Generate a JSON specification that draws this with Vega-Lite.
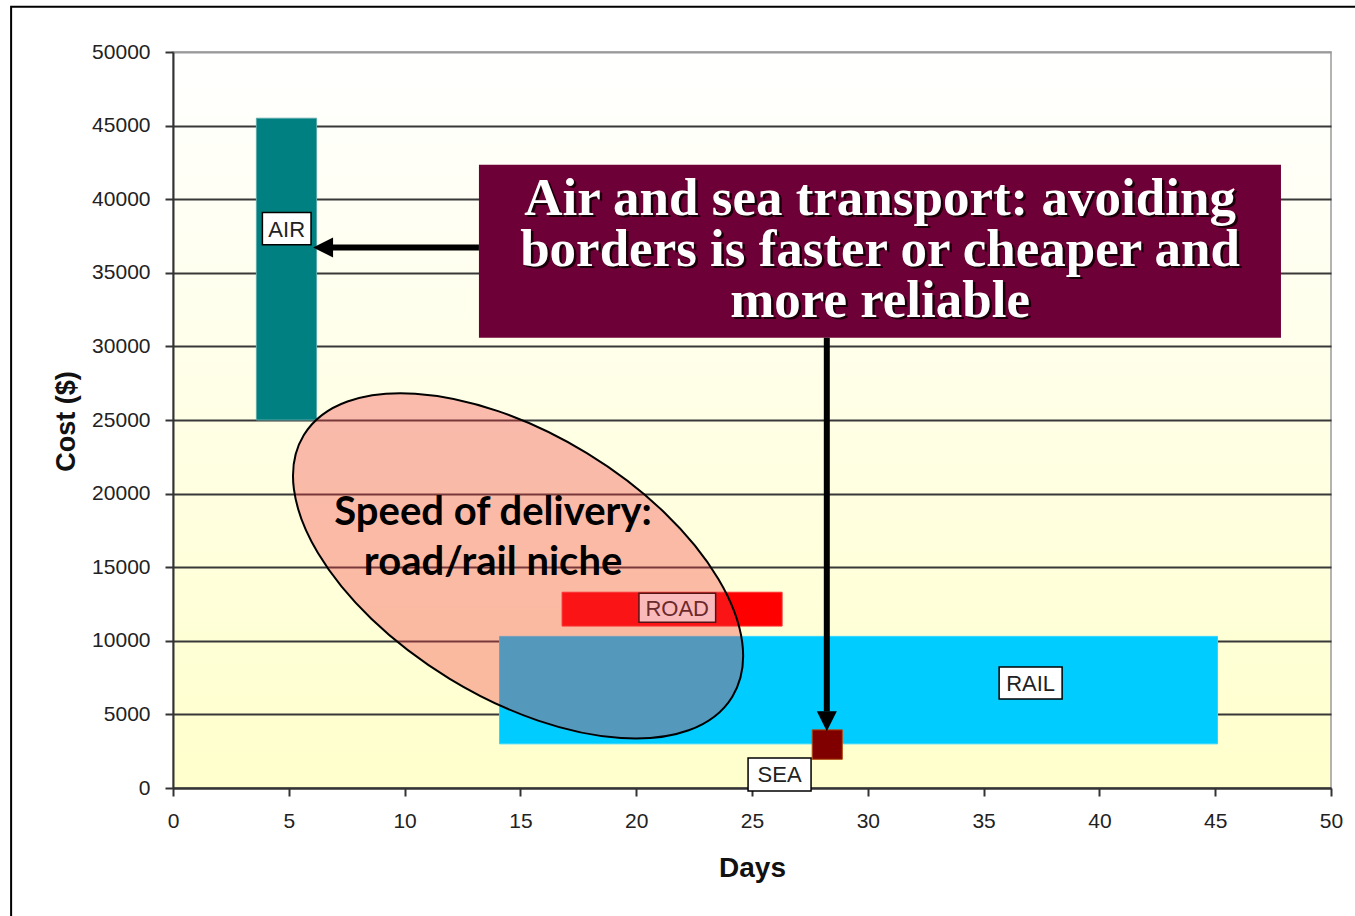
{
  "$schema": "https://vega.github.io/schema/vega-lite/v6.json",
  "width": 1158,
  "height": 736,
  "autosize": "none",
  "padding": {"left": 173, "top": 52, "right": 24, "bottom": 128},
  "background": "white",
  "view": {
    "fill": {"gradient": "linear", "x1": 0, "y1": 0, "x2": 0, "y2": 1,
      "stops": [{"offset": 0, "color": "#ffffff"}, {"offset": 1, "color": "#ffffcc"}]},
    "stroke": "#9a9a9a",
    "strokeWidth": 1.5
  },
  "datasets": {
    "modes": [
      {"mode": "AIR", "d0": 3.6, "d1": 6.2, "c0": 25000, "c1": 45500},
      {"mode": "ROAD", "d0": 16.8, "d1": 26.3, "c0": 11000, "c1": 13300},
      {"mode": "RAIL", "d0": 14.1, "d1": 45.1, "c0": 3000, "c1": 10300},
      {"mode": "SEA", "d0": 27.6, "d1": 28.9, "c0": 1950, "c1": 3950}
    ],
    "labels": [
      {"mode": "AIR", "d0": 3.86, "d1": 5.96, "c0": 36900, "c1": 39100, "dc": 4.91, "cc": 38000},
      {"mode": "ROAD", "d0": 20.12, "d1": 23.43, "c0": 11260, "c1": 13230, "dc": 21.77, "cc": 12250},
      {"mode": "RAIL", "d0": 35.67, "d1": 38.39, "c0": 6050, "c1": 8220, "dc": 37.03, "cc": 7140},
      {"mode": "SEA", "d0": 24.83, "d1": 27.55, "c0": -200, "c1": 2040, "dc": 26.19, "cc": 920}
    ],
    "niche": [{"dx": 14.9, "cy": 15090}],
    "nicheText": [
      {"t": "Speed of delivery:", "dx": 13.82, "cy": 17870},
      {"t": "road/rail niche", "dx": 13.82, "cy": 14475}
    ],
    "note": [{"d0": 13.21, "d1": 47.84, "c0": 30580, "c1": 42340}],
    "noteText": [
      {"t": "Air and sea transport: avoiding", "dx": 30.53, "cy": 38940},
      {"t": "borders is faster or cheaper and", "dx": 30.53, "cy": 35475},
      {"t": "more reliable", "dx": 30.53, "cy": 32010}
    ],
    "arrows": [
      {"a0": 13.21, "a1": 6.9, "b0": 36720, "b1": 36720},
      {"a0": 28.23, "a1": 28.23, "b0": 30580, "b1": 5200}
    ],
    "heads": [
      {"dir": "left", "dx": 6.48, "cy": 36720},
      {"dir": "down", "dx": 28.23, "cy": 4540}
    ],
    "frame": [{"d0": -6.99, "d1": 53, "c0": -11000, "c1": 53077}]
  },
  "encoding": {
    "x": {"type": "quantitative", "scale": {"domain": [0, 50], "nice": false}},
    "y": {"type": "quantitative", "scale": {"domain": [0, 50000], "nice": false}}
  },
  "layer": [
    {
      "data": {"name": "modes"},
      "mark": {"type": "rect"},
      "encoding": {
        "x": {"field": "d0", "type": "quantitative", "scale": {"domain": [0, 50], "nice": false},
          "axis": {"values": [0, 5, 10, 15, 20, 25, 30, 35, 40, 45, 50], "grid": false, "labelFlush": false,
            "domainColor": "#333", "domainWidth": 2, "tickColor": "#333", "tickWidth": 2, "tickSize": 8,
            "labelFont": "Liberation Sans", "labelFontSize": 21, "labelColor": "#222", "labelPadding": 14,
            "title": "Days", "titleFont": "Liberation Sans", "titleFontSize": 28, "titleFontWeight": "bold",
            "titleColor": "#111", "titleY": 88, "titleBaseline": "alphabetic"}},
        "x2": {"field": "d1"},
        "y": {"field": "c0", "type": "quantitative", "scale": {"domain": [0, 50000], "nice": false},
          "axis": {"values": [0, 5000, 10000, 15000, 20000, 25000, 30000, 35000, 40000, 45000, 50000],
            "format": "d", "grid": true, "labelFlush": false,
            "gridColor": {"condition": {"test": "datum.value == 50000", "value": "#9a9a9a"}, "value": "#383838"},
            "gridWidth": 2,
            "domainColor": "#333", "domainWidth": 2, "tickColor": "#333", "tickWidth": 2, "tickSize": 8,
            "labelFont": "Liberation Sans", "labelFontSize": 21, "labelColor": "#222", "labelPadding": 15,
            "title": "Cost ($)", "titleFont": "Liberation Sans", "titleFontSize": 27, "titleFontWeight": "bold",
            "titleColor": "#111", "titleX": -99, "titleY": 369, "titleAngle": -90, "titleAlign": "center",
            "titleBaseline": "alphabetic"}},
        "y2": {"field": "c1"},
        "color": {"field": "mode", "type": "nominal", "legend": null,
          "scale": {"domain": ["AIR", "ROAD", "RAIL", "SEA"], "range": ["#008080", "#ff0000", "#00ccff", "#800000"]}},
        "stroke": {"field": "mode", "type": "nominal", "legend": null,
          "scale": {"domain": ["AIR", "ROAD", "RAIL", "SEA"], "range": ["#5aa9a9", "#ff3030", "#30d4ff", "#b04a10"]}}
      }
    },
    {
      "data": {"name": "labels"},
      "mark": {"type": "rect", "fill": "white", "stroke": "black", "strokeWidth": 1.5},
      "encoding": {
        "x": {"field": "d0", "type": "quantitative"},
        "x2": {"field": "d1"},
        "y": {"field": "c0", "type": "quantitative"},
        "y2": {"field": "c1"}
      }
    },
    {
      "data": {"name": "labels"},
      "mark": {"type": "text", "font": "Liberation Sans", "fontSize": 22, "fill": "#222", "align": "center", "baseline": "middle", "dy": 1},
      "encoding": {
        "x": {"field": "dc", "type": "quantitative"},
        "y": {"field": "cc", "type": "quantitative"},
        "text": {"field": "mode"}
      }
    },
    {
      "data": {"name": "niche"},
      "mark": {"type": "point", "shape": "M -1 0 A 1 0.526 0 1 1 1 0 A 1 0.526 0 1 1 -1 0 Z",
        "size": 252004, "angle": 31.4, "filled": true, "fill": "#f03a40", "fillOpacity": 0.35,
        "stroke": "black", "strokeWidth": 2, "strokeOpacity": 1, "opacity": 1},
      "encoding": {
        "x": {"field": "dx", "type": "quantitative"},
        "y": {"field": "cy", "type": "quantitative"}
      }
    },
    {
      "data": {"name": "nicheText"},
      "mark": {"type": "text", "font": "Lato", "fontWeight": "bold", "fontSize": 40, "fill": "black", "align": "center", "baseline": "alphabetic"},
      "encoding": {
        "x": {"field": "dx", "type": "quantitative"},
        "y": {"field": "cy", "type": "quantitative"},
        "text": {"field": "t"}
      }
    },
    {
      "data": {"name": "note"},
      "mark": {"type": "rect", "fill": "#6d0036"},
      "encoding": {
        "x": {"field": "d0", "type": "quantitative"},
        "x2": {"field": "d1"},
        "y": {"field": "c0", "type": "quantitative"},
        "y2": {"field": "c1"}
      }
    },
    {
      "data": {"name": "noteText"},
      "mark": {"type": "text", "font": "Liberation Serif", "fontWeight": "bold", "fontSize": 53, "fill": "#1a0008", "align": "center", "baseline": "alphabetic", "dx": 2.5, "dy": 2.5},
      "encoding": {
        "x": {"field": "dx", "type": "quantitative"},
        "y": {"field": "cy", "type": "quantitative"},
        "text": {"field": "t"}
      }
    },
    {
      "data": {"name": "noteText"},
      "mark": {"type": "text", "font": "Liberation Serif", "fontWeight": "bold", "fontSize": 53, "fill": "white", "align": "center", "baseline": "alphabetic"},
      "encoding": {
        "x": {"field": "dx", "type": "quantitative"},
        "y": {"field": "cy", "type": "quantitative"},
        "text": {"field": "t"}
      }
    },
    {
      "data": {"name": "arrows"},
      "mark": {"type": "rule", "stroke": "black", "strokeWidth": 6, "strokeCap": "butt"},
      "encoding": {
        "x": {"field": "a0", "type": "quantitative"},
        "x2": {"field": "a1"},
        "y": {"field": "b0", "type": "quantitative"},
        "y2": {"field": "b1"}
      }
    },
    {
      "data": {"name": "heads"},
      "mark": {"type": "point", "size": 400, "filled": true, "fill": "black", "opacity": 1, "strokeWidth": 0},
      "encoding": {
        "x": {"field": "dx", "type": "quantitative"},
        "y": {"field": "cy", "type": "quantitative"},
        "shape": {"field": "dir", "type": "nominal", "legend": null,
          "scale": {"domain": ["left", "down"], "range": ["M -1 0 L 1 -1 L 1 1 Z", "M -1 -1 L 1 -1 L 0 1 Z"]}}
      }
    },
    {
      "data": {"name": "frame"},
      "mark": {"type": "rect", "fill": null, "stroke": "black", "strokeWidth": 2},
      "encoding": {
        "x": {"field": "d0", "type": "quantitative"},
        "x2": {"field": "d1"},
        "y": {"field": "c0", "type": "quantitative"},
        "y2": {"field": "c1"}
      }
    }
  ]
}
